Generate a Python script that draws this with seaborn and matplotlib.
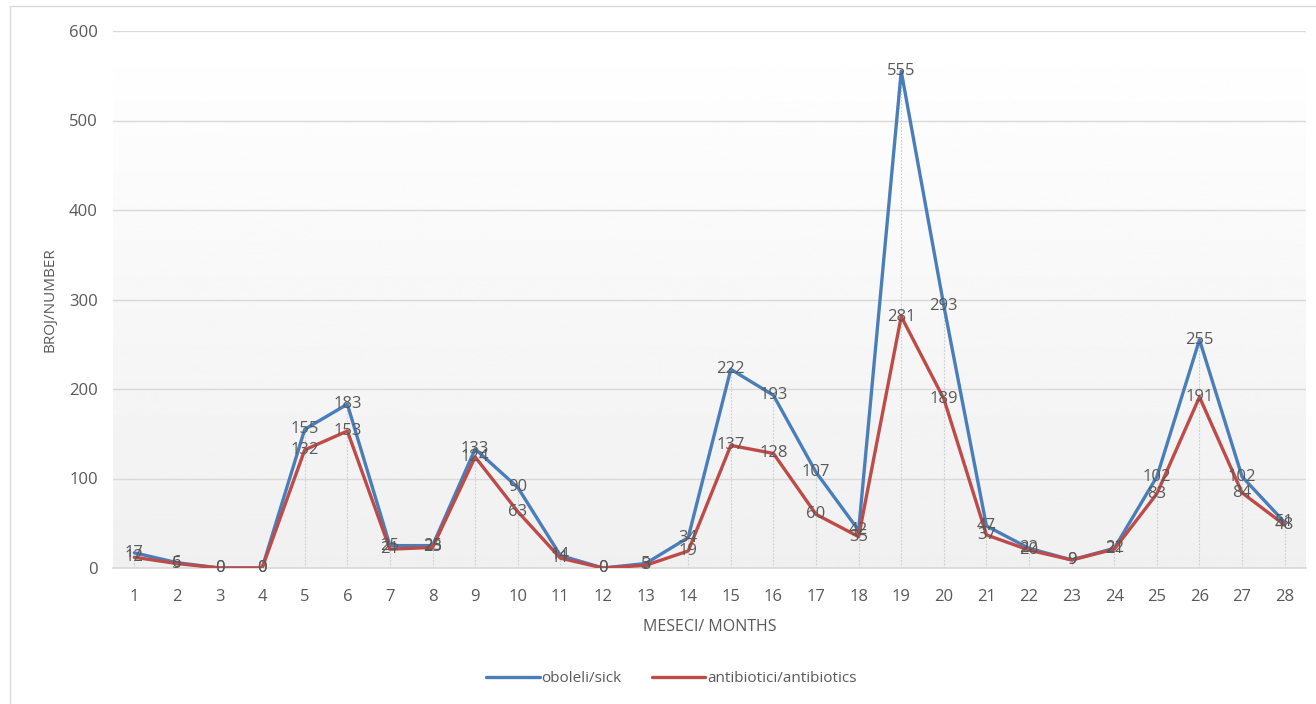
import numpy as np
import pandas as pd
import matplotlib.pyplot as plt
import seaborn as sns

# Data
months = list(range(1, 29))
sick = [17, 6, 0, 0, 155, 183, 25, 25, 133, 90, 14, 0, 5, 34,
        222, 193, 107, 42, 555, 293, 47, 22, 9, 22, 102, 255, 102, 51]
antibiotics = [12, 5, 0, 0, 132, 153, 21, 23, 124, 63, 11, 0, 3, 19,
               137, 128, 60, 35, 281, 189, 37, 20, 9, 21, 83, 191, 84, 48]
series_names = ['oboleli/sick', 'antibiotici/antibiotics']
colors = ['#4A7EBB', '#BE4B48']

df = pd.DataFrame({
    'month': months * 2,
    'value': sick + antibiotics,
    'series': [series_names[0]] * len(months) + [series_names[1]] * len(months),
})

sns.set_theme(style='white')
plt.rcParams['font.family'] = ['Open Sans', 'DejaVu Sans']
text_col = '#595959'
grid_col = '#D9D9D9'

fig = plt.figure(figsize=(13.16, 7.04), dpi=100)
fig.patches.append(plt.Rectangle((10 / 1316, -0.01), 1.0, 1 - 6 / 704 + 0.01,
                                 transform=fig.transFigure, fill=False,
                                 edgecolor=grid_col, linewidth=1))
ax = fig.add_axes([113 / 1316, 1 - 568 / 704, (1306 - 113) / 1316, (568 - 31) / 704])

# gradient background of the plot area
grad = np.linspace(0.94, 1.0, 256).reshape(-1, 1)
ax.imshow(grad, extent=[0, 1, 0, 1], transform=ax.transAxes, cmap='gray',
          vmin=0, vmax=1, aspect='auto', origin='lower', zorder=0)

# drop lines
tops = np.maximum(sick, antibiotics)
ax.vlines(months, 0, tops, colors='#CCCCCC', linestyles=(0, (1.5, 1.5)),
          linewidth=0.8, zorder=1)

sns.lineplot(data=df, x='month', y='value', hue='series', palette=colors,
             linewidth=2.4, ax=ax, legend=False, zorder=3)

for vals in (sick, antibiotics):
    for m, v in zip(months, vals):
        ax.text(m, v, str(v), ha='center', va='center', fontsize=12,
                color=text_col, zorder=4)

ax.set_xlim(0.5, 28.5)
ax.set_ylim(0, 600)
ax.set_xticks(months)
ax.set_yticks(range(0, 601, 100))
ax.tick_params(axis='both', length=0, labelsize=12, labelcolor=text_col)
ax.tick_params(axis='y', pad=11)
ax.tick_params(axis='x', pad=15)
ax.yaxis.grid(True, color=grid_col, linewidth=1)
ax.set_axisbelow(True)
for s in ['top', 'right', 'left']:
    ax.spines[s].set_visible(False)
ax.spines['bottom'].set_color(grid_col)
ax.set_xlabel('MESECI/ MONTHS', fontsize=11.5, color=text_col, labelpad=10)
ax.set_ylabel('BROJ/NUMBER', fontsize=11, color=text_col, labelpad=8)

handles = [plt.Line2D([], [], color=c, linewidth=2.4) for c in colors]
fig.legend(handles, series_names, loc='center', bbox_to_anchor=(0.51, 1 - 679 / 704),
           ncol=2, frameon=False, fontsize=11, labelcolor=text_col,
           handlelength=3.5, handletextpad=0.1, columnspacing=2.0)

fig.savefig('out.png', dpi=100)
